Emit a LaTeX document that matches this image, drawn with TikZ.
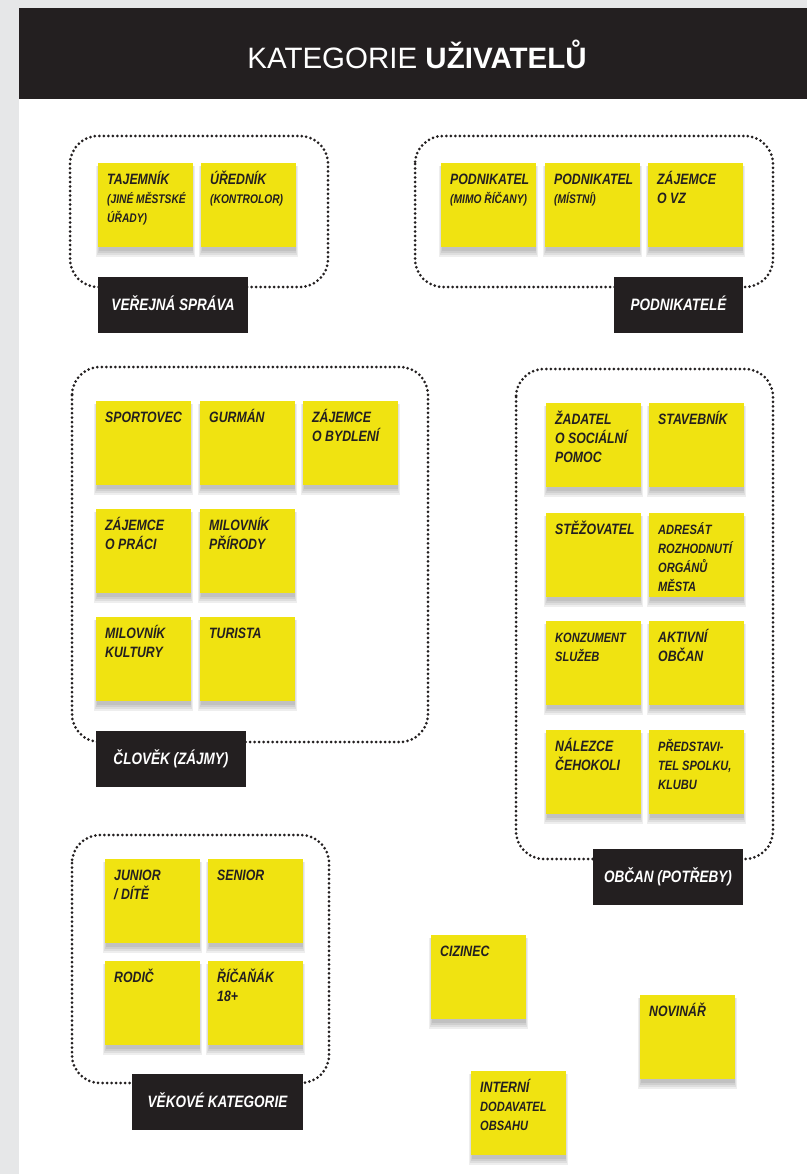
\documentclass[tikz,border=0pt]{standalone}
\usepackage{fontspec}
\newfontfamily\handfam[FakeStretch=0.82]{Liberation Sans}
\newfontfamily\titlefam{Liberation Sans}
\definecolor{ink}{HTML}{231F20}
\definecolor{stickyc}{HTML}{F0E311}
\definecolor{paper}{HTML}{E6E7E8}
\newcommand\nf{\handfam\bfseries\itshape\fontsize{15}{19}\selectfont\lineskiplimit=-30pt}
\newcommand\smf{\fontsize{12.5}{19}\selectfont}
\newcommand\mdf{\fontsize{13.5}{18.5}\selectfont}
\newcommand\st{\rule{0pt}{15pt}}
\tikzset{
  stickybox/.style={anchor=north west, minimum width=95pt, minimum height=84pt, inner sep=0pt, outer sep=0pt, fill=stickyc},
  stickytext/.style={anchor=north west, inner sep=0pt, align=left, text=ink, font=\nf},
  dotbox/.style={draw=ink, line width=3pt, line cap=round, dash pattern=on 0pt off 4.5pt, rounded corners=28pt},
  shadowlayer/.style={fill=black, opacity=.065},
  labelbox/.style={fill=ink, text=white, minimum height=56pt, inner sep=0pt, text height=11.8pt, text depth=0pt,
    font=\handfam\bfseries\itshape\fontsize{16.5}{20}\selectfont},
}
\newcommand\sticky[4]{%
  \fill[shadowlayer] (#2-2,#3+3) rectangle ++(99,91);
  \fill[shadowlayer] (#2-1,#3+3) rectangle ++(97,89);
  \fill[shadowlayer] (#2,#3+3) rectangle ++(95,87);
  \fill[shadowlayer] (#2+0.5,#3+3) rectangle ++(94,85);
  \node[stickybox] (#1) at (#2,#3) {};
  \node[stickytext] (#1-t) at (#2+9,#3+6) {#4};
}
\begin{document}
\begin{tikzpicture}[x=1pt,y=-1pt]
\useasboundingbox (0,0) rectangle (807,1174);
\fill[white] (0,0) rectangle (807,1174);
\fill[paper] (0,0) rectangle (19,1174);
\fill[paper] (0,0) rectangle (807,8);
\fill[ink] (19,8) rectangle (807,99);
\node[anchor=base, text=white, inner sep=0pt, font=\titlefam\fontsize{29.5}{34}\selectfont] (title) at (417,68.5) {KATEGORIE \textbf{UŽIVATELŮ}};

% group frames
\draw[dotbox] (70,136) rectangle (328,287);
\draw[dotbox] (415,136) rectangle (773,287);
\draw[dotbox] (72,367) rectangle (428,742);
\draw[dotbox] (516,369) rectangle (773,859);
\draw[dotbox] (72,835) rectangle (329,1083);

% Verejna sprava
\sticky{tajemnik}{98}{163}{\st TAJEMNÍK\\\smf (JINÉ MĚSTSKÉ\\\smf ÚŘADY)}
\sticky{urednik}{201}{163}{\st ÚŘEDNÍK\\\smf (KONTROLOR)}
% Podnikatele
\sticky{podnA}{441}{163}{\st PODNIKATEL\\\smf (MIMO ŘÍČANY)}
\sticky{podnB}{545}{163}{\st PODNIKATEL\\\smf (MÍSTNÍ)}
\sticky{zvz}{648}{163}{\st ZÁJEMCE\\O VZ}
% Clovek
\sticky{sport}{96}{401}{\st SPORTOVEC}
\sticky{gurman}{200}{401}{\st GURMÁN}
\sticky{bydleni}{303}{401}{\st ZÁJEMCE\\O BYDLENÍ}
\sticky{praci}{96}{509}{\st ZÁJEMCE\\O PRÁCI}
\sticky{priroda}{200}{509}{\st MILOVNÍK\\PŘÍRODY}
\sticky{kultura}{96}{617}{\st MILOVNÍK\\KULTURY}
\sticky{turista}{200}{617}{\st TURISTA}
% Obcan
\sticky{zadatel}{546}{403}{\st ŽADATEL\\O SOCIÁLNÍ\\POMOC}
\sticky{stavebnik}{649}{403}{\st STAVEBNÍK}
\sticky{stezovatel}{546}{513}{\st STĚŽOVATEL}
\sticky{adresat}{649}{513}{\st\mdf ADRESÁT\\\mdf ROZHODNUTÍ\\\mdf ORGÁNŮ\\\mdf MĚSTA}
\sticky{konzument}{546}{621}{\st\mdf KONZUMENT\\\mdf SLUŽEB}
\sticky{aktivni}{649}{621}{\st AKTIVNÍ\\OBČAN}
\sticky{nalezce}{546}{730}{\st NÁLEZCE\\ČEHOKOLI}
\sticky{spolek}{649}{730}{\st\mdf PŘEDSTAVI-\\\mdf TEL SPOLKU,\\\mdf KLUBU}
% Vekove kategorie
\sticky{junior}{105}{859}{\st JUNIOR\\/ DÍTĚ}
\sticky{senior}{208}{859}{\st SENIOR}
\sticky{rodic}{105}{961}{\st RODIČ}
\sticky{ricanak}{208}{961}{\st ŘÍČAŇÁK\\18+}
% loose
\sticky{cizinec}{431}{935}{\st CIZINEC}
\sticky{novinar}{640}{995}{\st NOVINÁŘ}
\sticky{interni}{471}{1071}{\st INTERNÍ\\\mdf DODAVATEL\\\mdf OBSAHU}

% labels
\node[labelbox, minimum width=150pt] (labA) at (173,305) {VEŘEJNÁ SPRÁVA};
\node[labelbox, minimum width=129pt] (labB) at (678.5,305) {PODNIKATELÉ};
\node[labelbox, minimum width=150pt] (labC) at (171,759) {ČLOVĚK (ZÁJMY)};
\node[labelbox, minimum width=150pt] (labD) at (668,877) {OBČAN (POTŘEBY)};
\node[labelbox, minimum width=171pt] (labE) at (217.5,1102) {VĚKOVÉ KATEGORIE};
\end{tikzpicture}
\end{document}
